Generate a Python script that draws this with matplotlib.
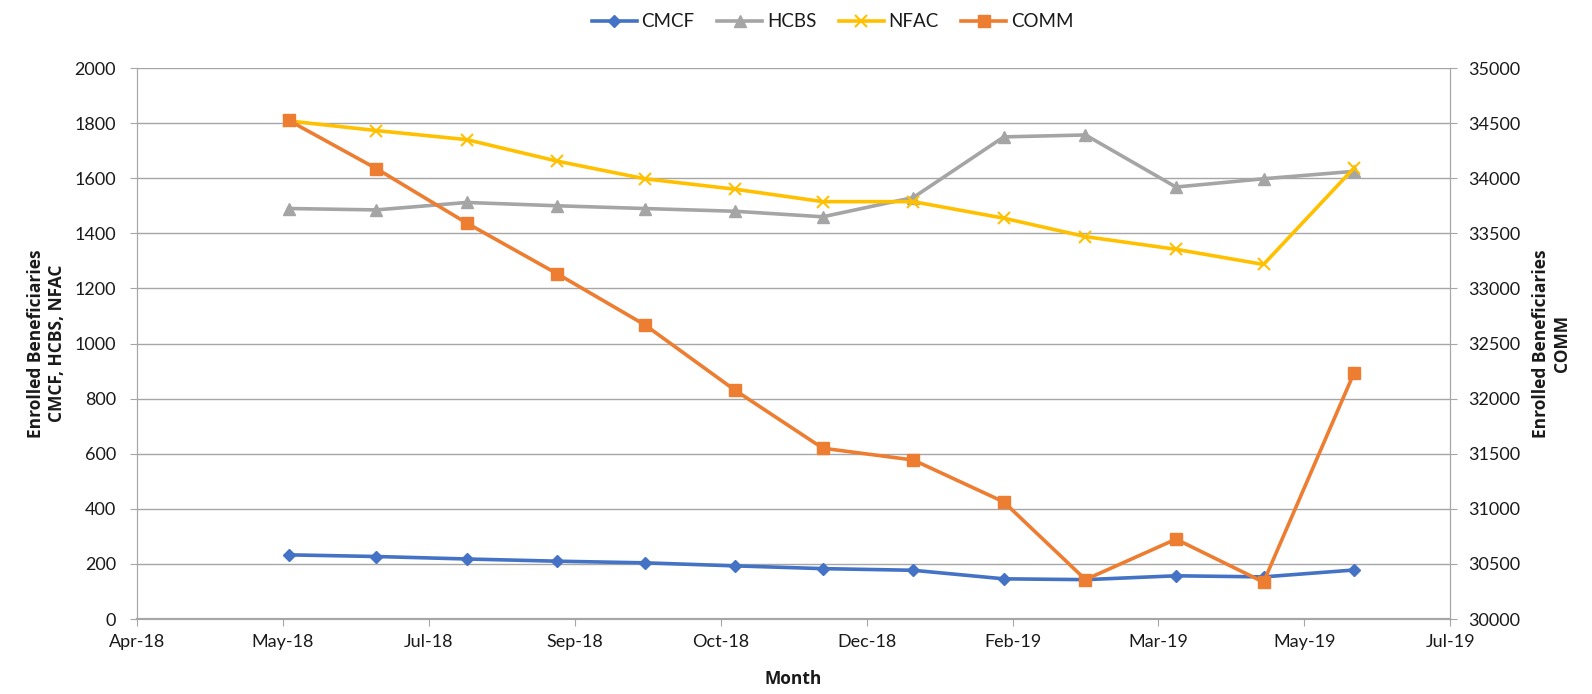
import numpy as np
import matplotlib
matplotlib.use('Agg')
import matplotlib.pyplot as plt
import matplotlib.dates as mdates
from datetime import date, timedelta

plt.rcParams['font.family'] = ['Lato', 'DejaVu Sans']

months = [date(2018, m, 1) for m in range(6, 13)] + [date(2019, m, 1) for m in range(1, 7)]
cmcf = [233, 227, 218, 210, 204, 193, 183, 177, 146, 143, 157, 153, 178]
hcbs = [1490, 1485, 1512, 1500, 1490, 1480, 1460, 1530, 1750, 1757, 1568, 1598, 1625]
nfac = [1808, 1773, 1740, 1662, 1598, 1560, 1515, 1515, 1455, 1388, 1342, 1287, 1637]
comm = [34525, 34088, 33593, 33133, 32670, 32075, 31550, 31443, 31063, 30358, 30725, 30335, 32233]

x_start = date(2018, 4, 10)
x_end = date(2019, 7, 4)
x_ticks = [x_start + timedelta(days=50 * i) for i in range(10)]

fig = plt.figure(figsize=(15.92, 6.94), dpi=100)
ax = fig.add_axes([0.086, 0.108, 0.825, 0.794])
ax2 = ax.twinx()

grid_c = '#a6a6a6'
txt_c = '#1a1a1a'
fs = 13
lab = dict(fontsize=12.5, fontweight='bold', color=txt_c, family=['Open Sans', 'DejaVu Sans'])
lw = 2.6
l1, = ax.plot(months, cmcf, color='#4472C4', lw=lw, marker='D', ms=6.5, label='CMCF')
l2, = ax.plot(months, hcbs, color='#A5A5A5', lw=lw, marker='^', ms=8, label='HCBS')
l3, = ax.plot(months, nfac, color='#FFC000', lw=lw, marker='x', ms=8, mew=1.5, label='NFAC')
l4, = ax2.plot(months, comm, color='#ED7D31', lw=lw, marker='s', ms=8, label='COMM')

ax.set_xlim(x_start, x_end)
ax.set_ylim(0, 2000)
ax.set_yticks(np.arange(0, 2001, 200))
ax2.set_ylim(30000, 35000)
ax2.set_yticks(np.arange(30000, 35001, 500))
ax.set_xticks(x_ticks)
ax.xaxis.set_major_formatter(mdates.DateFormatter('%b-%y'))

ax.grid(axis='y', color=grid_c, lw=1)
ax.set_axisbelow(True)
for a in (ax, ax2):
    a.spines['top'].set_visible(False)
    a.spines['left'].set_color(grid_c)
    a.spines['right'].set_color(grid_c)
    a.spines['bottom'].set_color(grid_c)
    a.spines['bottom'].set_linewidth(1.5)
    a.tick_params(axis='both', colors=grid_c, labelcolor=txt_c, labelsize=fs, length=5)
ax.tick_params(axis='y', pad=10)
ax2.tick_params(axis='y', pad=8)
ax.tick_params(axis='x', pad=6)

ax.set_ylabel('Enrolled Beneficiaries\nCMCF, HCBS, NFAC', labelpad=6, **lab)
ax2.set_ylabel('Enrolled Beneficiaries\nCOMM', labelpad=8, **lab)
ax.set_xlabel('Month', labelpad=14, **lab)

fig.legend(handles=[l1, l2, l3, l4], loc='upper center', bbox_to_anchor=(0.523, 1.005),
           ncol=4, frameon=False, fontsize=fs + 0.5, handlelength=2.4, handletextpad=0.25,
           columnspacing=1.2, labelcolor=txt_c)

fig.savefig('out.png', dpi=100)
